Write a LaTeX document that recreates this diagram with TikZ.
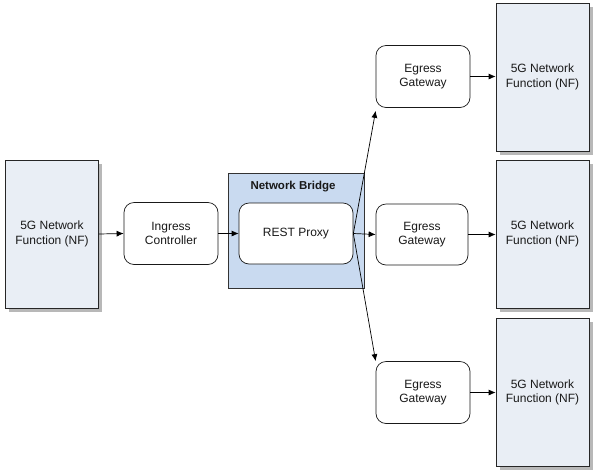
\documentclass[tikz,border=0pt]{standalone}
\usepackage{fontspec}
\setmainfont{Liberation Sans}
\usetikzlibrary{arrows.meta,calc,shadows}
\definecolor{nffill}{HTML}{E9EEF5}
\definecolor{bridgefill}{HTML}{C9DAF0}
\definecolor{shadowc}{HTML}{B8B8B8}
\begin{document}
\begin{tikzpicture}[x=1pt,y=-1pt,
  txt/.style={font=\fontsize{12}{14.5}\selectfont, align=center, text=black!90},
  nfbox/.style={txt, draw=black!85, line width=0.7pt, fill=nffill, minimum width=93pt, minimum height=148pt, inner sep=0pt,
     drop shadow={shadow xshift=3.5pt, shadow yshift=-3.5pt, opacity=1, fill=shadowc}},
  rbox/.style={txt, draw=black!90, line width=0.7pt, fill=white, rounded corners=10pt, minimum width=94pt, minimum height=62pt, inner sep=0pt},
  bridge/.style={draw=black!80, line width=0.7pt, fill=bridgefill, minimum width=136pt, minimum height=115pt, inner sep=0pt},
  arr/.style={draw=black, -{Latex[length=7pt,width=6pt]}, line width=0.7pt}
]
\useasboundingbox (0,0) rectangle (598,475);
\fill[white] (0,0) rectangle (598,475);

\node[nfbox] (nfl) at (52,234) {5G Network\\Function (NF)};
\node[rbox] (ing) at (171,233.5) {Ingress\\Controller};
\node[bridge] (br) at (296,230.5) {};
\node[font=\fontsize{11.5}{13}\selectfont\bfseries, text=black!90] (brl) at (293,187) {Network Bridge};
\node[rbox, minimum width=114pt, minimum height=61pt] (rest) at (296,233.5) {REST Proxy};

\node[rbox] (et) at (423,76.5) {Egress\\Gateway};
\node[rbox, minimum width=92pt, minimum height=61pt] (em) at (422,234.5) {Egress\\Gateway};
\node[rbox] (eb) at (423,392.5) {Egress\\Gateway};

\node[nfbox] (nft) at (542.5,77) {5G Network\\Function (NF)};
\node[nfbox] (nfm) at (542.5,234) {5G Network\\Function (NF)};
\node[nfbox] (nfb) at (542.5,392.5) {5G Network\\Function (NF)};

\draw[arr] (nfl.east) -- (ing.west);
\draw[arr] (ing.east) -- (rest.west);
\draw[arr] (rest.east) -- (em.west);
\draw[arr] (rest.east) -- ($(et.south west)+(0,3)$);
\draw[arr] (rest.east) -- (eb.north west);
\draw[arr] (et.east) -- (nft.west |- et.east);
\draw[arr] (em.east) -- (nfm.west |- em.east);
\draw[arr] (eb.east) -- (nfb.west |- eb.east);
\end{tikzpicture}
\end{document}
